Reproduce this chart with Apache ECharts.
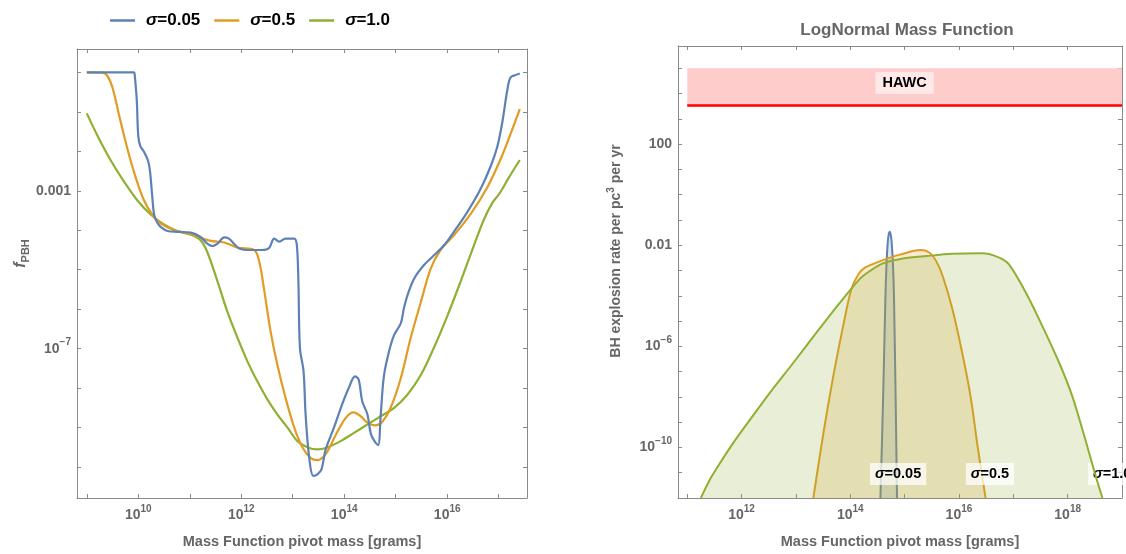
<!DOCTYPE html>
<html>
<head>
<meta charset="utf-8">
<script src="https://cdn.jsdelivr.net/npm/echarts@6/dist/echarts.min.js"></script>
<style>
  html, body { margin: 0; padding: 0; background: #ffffff; }
  #chart { width: 1126px; height: 554px; }
</style>
</head>
<body>
<div id="chart"></div>
<script>
// ---- Data (all values are log10: mass in grams, f_PBH, explosion rate per pc^3 per yr) ----
const seriesNames = ['σ=0.05', 'σ=0.5', 'σ=1.0'];

// Left panel: f_PBH bound vs pivot mass
const fLogMass005 = [9.00, 9.92, 9.93, 9.97, 10.00, 10.04, 10.11, 10.19, 10.23, 10.27, 10.31, 10.37, 10.44, 10.57, 10.76, 11.02, 11.21, 11.34, 11.44, 11.54, 11.67, 11.76, 11.86, 11.96, 12.18, 12.41, 12.54, 12.64, 12.74, 12.86, 13.03, 13.08, 13.11, 13.14, 13.21, 13.25, 13.32, 13.40, 13.48, 13.56, 13.64, 13.80, 13.96, 14.09, 14.21, 14.28, 14.35, 14.45, 14.52, 14.61, 14.66, 14.71, 14.77, 14.87, 14.97, 15.10, 15.16, 15.23, 15.36, 15.55, 15.78, 15.94, 16.13, 16.39, 16.65, 16.85, 16.97, 17.07, 17.17, 17.23, 17.33, 17.41];
const fLogF005    = [0.00, 0.00, -0.05, -0.68, -1.61, -1.87, -2.01, -2.24, -2.53, -3.12, -3.62, -3.81, -3.92, -4.02, -4.04, -4.06, -4.17, -4.34, -4.40, -4.34, -4.18, -4.21, -4.34, -4.46, -4.50, -4.50, -4.45, -4.21, -4.29, -4.21, -4.21, -4.38, -5.30, -6.98, -7.57, -8.66, -9.76, -10.22, -10.18, -10.05, -9.55, -9.00, -8.41, -7.99, -7.70, -7.78, -8.33, -8.66, -9.17, -9.38, -9.44, -8.66, -7.70, -7.07, -6.65, -6.35, -5.97, -5.64, -5.22, -4.88, -4.59, -4.38, -4.04, -3.54, -2.95, -2.36, -1.90, -1.27, -0.43, -0.13, -0.07, -0.03];

const fLogMass05 = [9.00, 9.30, 9.40, 9.50, 9.63, 9.79, 9.95, 10.11, 10.28, 10.44, 10.70, 10.96, 11.21, 11.41, 11.67, 11.93, 12.25, 12.35, 12.44, 12.57, 12.70, 12.86, 13.03, 13.19, 13.35, 13.48, 13.64, 13.84, 14.03, 14.18, 14.32, 14.45, 14.61, 14.74, 14.90, 15.10, 15.29, 15.49, 15.68, 15.87, 16.13, 16.46, 16.78, 17.04, 17.23, 17.41];
const fLogF05    = [0.00, -0.01, -0.09, -0.39, -1.10, -1.94, -2.66, -3.24, -3.62, -3.83, -4.00, -4.08, -4.19, -4.27, -4.31, -4.44, -4.50, -4.80, -5.47, -6.56, -7.40, -8.24, -9.00, -9.50, -9.77, -9.82, -9.67, -9.17, -8.75, -8.61, -8.71, -8.87, -8.94, -8.85, -8.50, -7.74, -6.73, -5.81, -4.97, -4.50, -4.13, -3.58, -2.91, -2.19, -1.56, -0.93];

const fLogMass10 = [9.00, 9.21, 9.47, 9.73, 9.98, 10.24, 10.50, 10.76, 11.02, 11.21, 11.34, 11.54, 11.73, 11.93, 12.12, 12.31, 12.51, 12.70, 12.90, 13.09, 13.29, 13.48, 13.67, 13.93, 14.19, 14.45, 14.71, 14.97, 15.23, 15.49, 15.74, 16.00, 16.26, 16.52, 16.72, 16.88, 17.01, 17.20, 17.41];
const fLogF10    = [-1.04, -1.61, -2.24, -2.78, -3.24, -3.60, -3.85, -4.02, -4.11, -4.25, -4.55, -5.30, -6.06, -6.73, -7.32, -7.82, -8.29, -8.66, -9.00, -9.34, -9.50, -9.55, -9.50, -9.34, -9.13, -8.92, -8.71, -8.50, -8.16, -7.66, -6.98, -6.18, -5.30, -4.38, -3.71, -3.30, -3.08, -2.66, -2.22];

// Right panel: BH explosion rate vs pivot mass
const rLogMass005 = [14.555, 14.604, 14.646, 14.665, 14.689, 14.705, 14.726, 14.745, 14.762, 14.787, 14.805, 14.835, 14.860];
const rLogRate005 = [-12.00, -8.07, -4.13, -2.82, -1.90, -1.60, -1.47, -1.60, -1.90, -2.82, -4.13, -8.07, -12.00];

const rLogMass05 = [13.32, 13.51, 13.69, 13.87, 14.02, 14.15, 14.27, 14.48, 14.73, 14.97, 15.15, 15.31, 15.46, 15.58, 15.70, 15.88, 16.07, 16.22, 16.34, 16.49];
const rLogRate05 = [-12.00, -9.38, -7.15, -5.18, -3.74, -3.15, -2.89, -2.69, -2.49, -2.34, -2.23, -2.19, -2.30, -2.62, -3.22, -4.53, -6.36, -8.07, -9.91, -12.00];

const rLogMass10 = [11.25, 11.43, 11.62, 11.86, 12.17, 12.53, 12.96, 13.38, 13.81, 14.18, 14.36, 14.60, 14.97, 15.40, 15.88, 16.43, 16.74, 16.92, 17.23, 17.53, 17.84, 18.08, 18.32, 18.51, 18.64];
const rLogRate10 = [-12.00, -11.22, -10.56, -9.78, -8.86, -7.81, -6.63, -5.45, -4.27, -3.32, -3.02, -2.72, -2.53, -2.43, -2.34, -2.32, -2.49, -2.76, -3.87, -5.18, -6.63, -7.94, -9.65, -11.09, -12.00];

// HAWC excluded region (log10 rate) and its mass span
const hawcLogRate = [3.52, 5.0];
const hawcLogMass = [11.0, 19.0];

// Where the sigma tags sit in the right panel (log10 mass, log10 rate)
const sigmaTagMass = [14.88, 16.57, 18.82];
const sigmaTagRate = -11.05;

// Tick values (log10) and which of them get a label
const leftXTicks = [9, 10, 11, 12, 13, 14, 15, 16, 17];
const leftXLabels = [10, 12, 14, 16];
const leftYTicks = [-10, -9, -8, -7, -6, -5, -4, -3, -2, -1, 0];
const leftYLabels = [-7, -3];
const rightXTicks = [11, 12, 13, 14, 15, 16, 17, 18, 19];
const rightXLabels = [12, 14, 16, 18];
const rightYTicks = [-12, -11, -10, -9, -8, -7, -6, -5, -4, -3, -2, -1, 0, 1, 2, 3, 4, 5];
const rightYLabels = [-10, -6, -2, 2];

// ---- Styling helpers ----
const colors = ['#5E81B5', '#E19C24', '#8FB032'];
const axisGrey = '#8a8a8a';
const labelGrey = '#666666';

const zip = (xs, ys) => xs.map((x, i) => [x, ys[i]]);

// Powers of ten: plain decimals for small exponents, 10^n otherwise
function powerLabel(v) {
  if (v === 2) return '{b|100}';
  if (v === -2) return '{b|0.01}';
  if (v === -3) return '{b|0.001}';
  const exp = (v < 0 ? '\u2212' : '') + Math.abs(v);
  return '{b|10}{s|' + exp + '}';
}
const powerRich = {
  b: { fontSize: 14, fontWeight: 'bold', color: labelGrey, fontFamily: 'Liberation Sans', lineHeight: 22 },
  s: { fontSize: 10, fontWeight: 'bold', color: labelGrey, fontFamily: 'Liberation Sans', lineHeight: 12, verticalAlign: 'top' }
};

function sigmaText(name) {
  return '{i|σ}{b|' + name.slice(1) + '}';
}

function frameAxis(opts) {
  return Object.assign({
    type: 'value',
    axisLine: { show: true, onZero: false, lineStyle: { color: axisGrey, width: 1 } },
    axisTick: { show: true, inside: true, length: 4, lineStyle: { color: axisGrey, width: 1 } },
    splitLine: { show: false },
    axisLabel: { show: false }
  }, opts);
}

function bottomX(grid, min, max, ticks, labels) {
  return frameAxis({
    gridIndex: grid, position: 'bottom', min: min, max: max,
    axisTick: { show: true, inside: true, length: 4, lineStyle: { color: axisGrey }, customValues: ticks },
    axisLabel: { show: true, customValues: labels, margin: 6, formatter: powerLabel, rich: powerRich },
    name: 'Mass Function pivot mass [grams]',
    nameLocation: 'middle',
    nameGap: 36,
    nameTextStyle: { fontSize: 14.5, fontWeight: 'bold', color: labelGrey, fontFamily: 'Liberation Sans' }
  });
}
function topX(grid, min, max, ticks) {
  return frameAxis({
    gridIndex: grid, position: 'top', min: min, max: max,
    axisTick: { show: true, inside: true, length: 4, lineStyle: { color: axisGrey }, customValues: ticks }
  });
}
function leftY(grid, min, max, ticks, labels, name, nameRich, gap, shift) {
  return frameAxis({
    gridIndex: grid, position: 'left', min: min, max: max,
    axisTick: { show: true, inside: true, length: 4, lineStyle: { color: axisGrey }, customValues: ticks },
    axisLabel: { show: true, customValues: labels, margin: 6, formatter: powerLabel, rich: powerRich },
    name: name,
    nameLocation: 'middle',
    nameGap: gap,
    nameTextStyle: { rich: nameRich, padding: [0, 0, 0, shift] }
  });
}
function rightY(grid, min, max, ticks) {
  return frameAxis({
    gridIndex: grid, position: 'right', min: min, max: max,
    axisTick: { show: true, inside: true, length: 4, lineStyle: { color: axisGrey }, customValues: ticks }
  });
}

const chart = echarts.init(document.getElementById('chart'), null, { renderer: 'canvas' });

const leftSeries = [zip(fLogMass005, fLogF005), zip(fLogMass05, fLogF05), zip(fLogMass10, fLogF10)].map((d, i) => ({
  name: seriesNames[i],
  type: 'line',
  xAxisIndex: 0,
  yAxisIndex: 0,
  data: d,
  showSymbol: false,
  symbol: 'none',
  smooth: 0.35,
  lineStyle: { color: colors[i], width: 2.2 },
  itemStyle: { color: colors[i] },
  z: 3 + (2 - i)
}));

const rightData = [zip(rLogMass005, rLogRate005), zip(rLogMass05, rLogRate05), zip(rLogMass10, rLogRate10)];
const rightSeries = rightData.map((d, i) => ({
  name: seriesNames[i],
  type: 'line',
  xAxisIndex: 2,
  yAxisIndex: 2,
  data: d,
  showSymbol: false,
  symbol: 'none',
  smooth: 0.3,
  lineStyle: { color: colors[i], width: 2 },
  itemStyle: { color: colors[i] },
  areaStyle: { color: colors[i], opacity: 0.2, origin: 'start' },
  z: 3 + i,
  markPoint: {
    symbol: 'rect',
    symbolSize: 0,
    silent: true,
    data: [{ coord: [sigmaTagMass[i], sigmaTagRate] }],
    label: {
      show: true,
      position: 'inside',
      formatter: () => sigmaText(seriesNames[i]),
      backgroundColor: 'rgba(255,255,255,0.72)',
      padding: [4, 5, 3, 5],
      rich: {
        i: { fontSize: 14.5, fontWeight: 'bold', fontStyle: 'italic', color: '#000', fontFamily: 'Liberation Sans' },
        b: { fontSize: 14.5, fontWeight: 'bold', color: '#000', fontFamily: 'Liberation Sans' }
      }
    }
  }
}));

// HAWC exclusion band and its lower bound
rightSeries.push({
  name: 'HAWC',
  type: 'line',
  xAxisIndex: 2,
  yAxisIndex: 2,
  data: [],
  z: 2,
  markArea: {
    silent: true,
    itemStyle: { color: '#FFCCCC' },
    label: {
      show: true,
      position: 'inside',
      offset: [0, -4],
      color: '#000',
      fontSize: 14.5,
      fontWeight: 'bold',
      fontFamily: 'Liberation Sans',
      backgroundColor: 'rgba(255,255,255,0.55)',
      padding: [4, 7, 3, 7]
    },
    data: [[
      { name: 'HAWC', coord: [hawcLogMass[0], hawcLogRate[1]] },
      { coord: [hawcLogMass[1], hawcLogRate[0]] }
    ]]
  },
  markLine: {
    silent: true,
    symbol: ['none', 'none'],
    label: { show: false },
    lineStyle: { color: '#FF0000', width: 2.5, type: 'solid' },
    data: [[
      { coord: [hawcLogMass[0], hawcLogRate[0]] },
      { coord: [hawcLogMass[1], hawcLogRate[0]] }
    ]]
  }
});

const option = {
  animation: false,
  backgroundColor: '#ffffff',
  title: {
    text: 'LogNormal Mass Function',
    left: 902,
    top: 17,
    textAlign: 'center',
    textStyle: { fontSize: 17, fontWeight: 'bold', color: labelGrey, fontFamily: 'Liberation Sans' }
  },
  legend: {
    data: seriesNames,
    left: 105,
    top: 7,
    icon: 'rect',
    itemWidth: 25,
    itemHeight: 2.5,
    itemGap: 14,
    formatter: sigmaText,
    textStyle: {
      padding: [0, 0, 0, 6],
      rich: {
        i: { fontSize: 17, fontWeight: 'bold', fontStyle: 'italic', color: '#000', fontFamily: 'Liberation Sans' },
        b: { fontSize: 17, fontWeight: 'bold', color: '#000', fontFamily: 'Liberation Sans' }
      }
    },
    selectedMode: false
  },
  grid: [
    { left: 77, top: 49, width: 450, height: 451, containLabel: false },
    { left: 678, top: 46, width: 444, height: 454, containLabel: false }
  ],
  xAxis: [
    bottomX(0, 8.81, 17.55, leftXTicks, leftXLabels),
    topX(0, 8.81, 17.55, leftXTicks),
    bottomX(1, 10.83, 19.0, rightXTicks, rightXLabels),
    topX(1, 10.83, 19.0, rightXTicks)
  ],
  yAxis: [
    leftY(0, -10.78, 0.59, leftYTicks, leftYLabels, '{f|f}{s|PBH}', {
      f: { fontSize: 16, fontWeight: 'bold', fontStyle: 'italic', color: labelGrey, fontFamily: 'Liberation Sans', lineHeight: 20 },
      s: { fontSize: 11, fontWeight: 'bold', color: labelGrey, fontFamily: 'Liberation Sans', verticalAlign: 'bottom', lineHeight: 12 }
    }, 46, 40),
    rightY(0, -10.78, 0.59, leftYTicks),
    leftY(1, -12, 5.88, rightYTicks, rightYLabels, '{t|BH explosion rate per pc}{s|3}{t| per yr}', {
      t: { fontSize: 14, fontWeight: 'bold', color: labelGrey, fontFamily: 'Liberation Sans', lineHeight: 20 },
      s: { fontSize: 10, fontWeight: 'bold', color: labelGrey, fontFamily: 'Liberation Sans', verticalAlign: 'top', lineHeight: 12 }
    }, 52, 42),
    rightY(1, -12, 5.88, rightYTicks)
  ],
  series: leftSeries.concat(rightSeries)
};

chart.setOption(option);
</script>
</body>
</html>
